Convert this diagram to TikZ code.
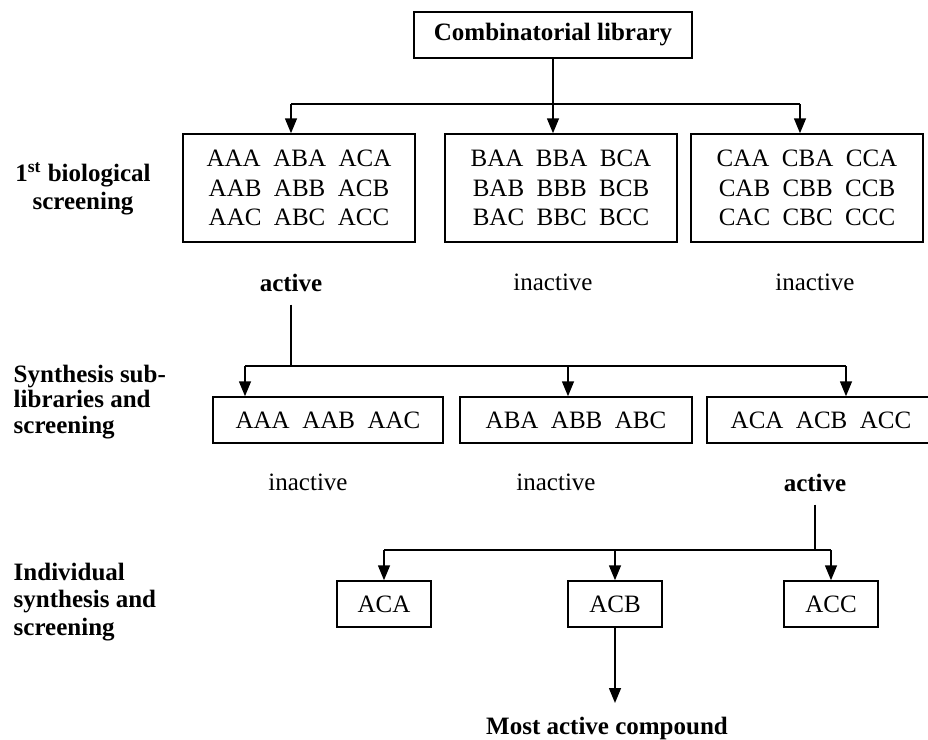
\documentclass[tikz,border=0pt]{standalone}
\usepackage{fontspec}
\setmainfont{Liberation Serif}
\usetikzlibrary{arrows.meta}

\begin{document}
\begin{tikzpicture}[x=0.5pt, y=-0.5pt, line width=0.75pt,
    every node/.style={font=\fontsize{12.5}{14.75}\selectfont},
    box/.style={draw, inner sep=0pt, align=center},
    setbox/.style={box, minimum width=116pt, minimum height=54pt},
    rowbox/.style={box, minimum height=23pt},
    onebox/.style={box, minimum width=47pt, minimum height=23pt},
    result/.style={inner sep=6pt},
    strong/.style={font=\fontsize{12.5}{14.75}\selectfont\bfseries},
    stage/.style={align=left, anchor=west, inner sep=0pt},
    arr/.style={-{Triangle[length=7.5pt, width=6pt]}}]
    \clip (0,0) rectangle (928,740);

    % Draw the whole library
    \node[box, strong, minimum width=139pt, minimum height=23pt] (lib) at (553,35) {Combinatorial library};

    % Draw the three pools of the first screening
    \node[setbox] (poolA) at (299,188) {AAA\ \ ABA\ \ ACA\\AAB\ \ ABB\ \ ACB\\AAC\ \ ABC\ \ ACC};
    \node[setbox] (poolB) at (561,188) {BAA\ \ BBA\ \ BCA\\BAB\ \ BBB\ \ BCB\\BAC\ \ BBC\ \ BCC};
    \node[setbox] (poolC) at (807,188) {CAA\ \ CBA\ \ CCA\\CAB\ \ CBB\ \ CCB\\CAC\ \ CBC\ \ CCC};

    % Branch from the library to the pools
    \coordinate (j1) at (553,104);
    \coordinate (a1) at (291,104);
    \coordinate (a3) at (800,104);
    \draw (lib) -- (j1);
    \draw (a1) -- (a3);
    \draw[arr] (a1) -- (a1 |- poolA.north);
    \draw[arr] (j1) -- (j1 |- poolB.north);
    \draw[arr] (a3) -- (a3 |- poolC.north);

    % Results of the first screening
    \node[result, strong] (act1) at (291,283) {active};
    \node[result] (inact1) at (553,282) {inactive};
    \node[result] (inact2) at (815,282) {inactive};

    % Draw the sub-libraries
    \node[rowbox, minimum width=115pt] (subA) at (328,420) {AAA\ \ AAB\ \ AAC};
    \node[rowbox, minimum width=116pt] (subB) at (576,420) {ABA\ \ ABB\ \ ABC};
    \node[rowbox, minimum width=114pt] (subC) at (821,420) {ACA\ \ ACB\ \ ACC};

    % Branch from the active pool to the sub-libraries
    \coordinate (j2) at (291,366);
    \coordinate (b1) at (245,366);
    \coordinate (b2) at (568,366);
    \coordinate (b3) at (846,366);
    \draw (act1) -- (j2);
    \draw (b1) -- (b3);
    \draw[arr] (b1) -- (b1 |- subA.north);
    \draw[arr] (b2) -- (b2 |- subB.north);
    \draw[arr] (b3) -- (b3 |- subC.north);

    % Results of the sub-library screening
    \node[result] (inact3) at (308,482) {inactive};
    \node[result] (inact4) at (556,482) {inactive};
    \node[result, strong] (act2) at (815,483) {active};

    % Draw the single compounds
    \node[onebox] (cmpA) at (384,604) {ACA};
    \node[onebox] (cmpB) at (615,604) {ACB};
    \node[onebox] (cmpC) at (831,604) {ACC};

    % Branch from the active sub-library to the compounds
    \coordinate (j3) at (815,550);
    \coordinate (c1) at (384,550);
    \coordinate (c2) at (615,550);
    \coordinate (c3) at (831,550);
    \draw (act2) -- (j3);
    \draw (c1) -- (c3);
    \draw[arr] (c1) -- (cmpA);
    \draw[arr] (c2) -- (cmpB);
    \draw[arr] (c3) -- (cmpC);

    % The best compound
    \coordinate (tip) at (615,703);
    \draw[arr] (cmpB) -- (tip);
    \node[strong] (best) at (607,728) {Most active compound};

    % Stage labels on the left
    \node[strong, align=center, font=\fontsize{12.5}{14}\selectfont\bfseries] (stage1) at (83,189) {1\textsuperscript{st} biological\\screening};
    \node[strong, stage, font=\fontsize{12.5}{12.75}\selectfont\bfseries] (stage2) at (13,402) {Synthesis sub-\\libraries and\\screening};
    \node[strong, stage, font=\fontsize{12.5}{13.75}\selectfont\bfseries] (stage3) at (13,602) {Individual\\synthesis and\\screening};
\end{tikzpicture}
\end{document}
